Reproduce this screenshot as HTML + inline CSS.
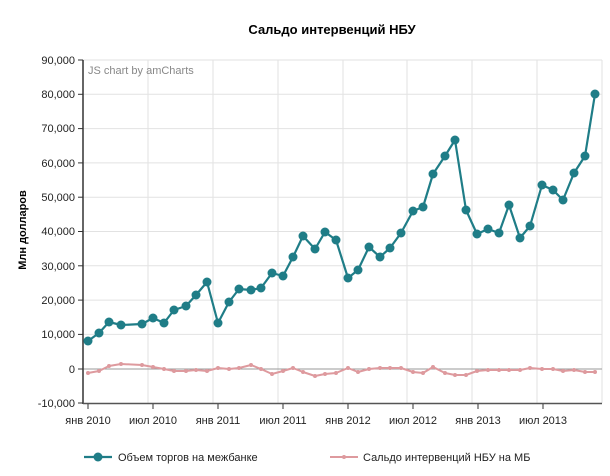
<!DOCTYPE html>
<html><head><meta charset="utf-8"><style>
body{margin:0;background:#fff;}
svg{display:block;font-family:"Liberation Sans",sans-serif;}
</style></head><body>
<svg width="610" height="476" viewBox="0 0 610 476">
<rect width="610" height="476" fill="#fff"/>
<text x="332" y="34" text-anchor="middle" font-size="13" font-weight="bold" fill="#000">Сальдо интервенций НБУ</text>
<g stroke="#e2e2e2" stroke-width="1">
<line x1="83" y1="60" x2="602" y2="60"/><line x1="83" y1="94.3" x2="602" y2="94.3"/><line x1="83" y1="128.6" x2="602" y2="128.6"/><line x1="83" y1="162.9" x2="602" y2="162.9"/><line x1="83" y1="197.2" x2="602" y2="197.2"/><line x1="83" y1="231.5" x2="602" y2="231.5"/><line x1="83" y1="265.8" x2="602" y2="265.8"/><line x1="83" y1="300.1" x2="602" y2="300.1"/><line x1="83" y1="334.4" x2="602" y2="334.4"/>
<line x1="148" y1="60" x2="148" y2="403"/><line x1="213" y1="60" x2="213" y2="403"/><line x1="278" y1="60" x2="278" y2="403"/><line x1="343" y1="60" x2="343" y2="403"/><line x1="407" y1="60" x2="407" y2="403"/><line x1="472" y1="60" x2="472" y2="403"/><line x1="537" y1="60" x2="537" y2="403"/><line x1="602" y1="60" x2="602" y2="403"/>
</g>
<line x1="83" y1="369" x2="602" y2="369" stroke="#999" stroke-width="1"/>
<line x1="83" y1="60" x2="83" y2="404" stroke="#333" stroke-width="1.5"/>
<line x1="83" y1="403.5" x2="602" y2="403.5" stroke="#555" stroke-width="1.5"/>
<g stroke="#333"><line x1="78" y1="60" x2="83" y2="60"/><line x1="78" y1="94.3" x2="83" y2="94.3"/><line x1="78" y1="128.6" x2="83" y2="128.6"/><line x1="78" y1="162.9" x2="83" y2="162.9"/><line x1="78" y1="197.2" x2="83" y2="197.2"/><line x1="78" y1="231.5" x2="83" y2="231.5"/><line x1="78" y1="265.8" x2="83" y2="265.8"/><line x1="78" y1="300.1" x2="83" y2="300.1"/><line x1="78" y1="334.4" x2="83" y2="334.4"/><line x1="78" y1="369" x2="83" y2="369"/><line x1="78" y1="403" x2="83" y2="403"/>
<line x1="88" y1="404" x2="88" y2="409"/><line x1="153" y1="404" x2="153" y2="409"/><line x1="218" y1="404" x2="218" y2="409"/><line x1="283" y1="404" x2="283" y2="409"/><line x1="348" y1="404" x2="348" y2="409"/><line x1="413" y1="404" x2="413" y2="409"/><line x1="478" y1="404" x2="478" y2="409"/><line x1="543" y1="404" x2="543" y2="409"/></g>
<g font-size="11" fill="#222" text-anchor="end">
<text x="75" y="64">90,000</text><text x="75" y="98">80,000</text><text x="75" y="132">70,000</text><text x="75" y="167">60,000</text><text x="75" y="201">50,000</text><text x="75" y="235">40,000</text><text x="75" y="270">30,000</text><text x="75" y="304">20,000</text><text x="75" y="338">10,000</text><text x="75" y="373">0</text><text x="75" y="407">-10,000</text>
</g>
<g font-size="11" fill="#222" text-anchor="middle">
<text x="88" y="424">янв 2010</text><text x="153" y="424">июл 2010</text><text x="218" y="424">янв 2011</text><text x="283" y="424">июл 2011</text><text x="348" y="424">янв 2012</text><text x="413" y="424">июл 2012</text><text x="478" y="424">янв 2013</text><text x="543" y="424">июл 2013</text>
</g>
<text x="88" y="74" font-size="11" fill="#888">JS chart by amCharts</text>
<text transform="translate(26,230) rotate(-90)" text-anchor="middle" font-size="11" font-weight="bold" fill="#000">Млн долларов</text>
<polyline fill="none" stroke="#de9a9e" stroke-width="2" stroke-linejoin="round" points="88,373 99,371 109,366 121,364 142,365 153,367 164,369 174,371 186,371 196,370 207,371 218,368 229,369 239,368 251,365 261,369 272,374 283,371 293,368 303,372 315,376 325,374 336,373 348,368 358,372 369,369 380,368 390,368 401,368 413,372 423,373 433,367 445,373 455,375 466,375 477,371 488,370 499,370 509,370 520,370 530,368 542,369 553,369 563,371 574,370 585,372 595,372"/>
<g fill="#de9a9e">
<circle cx="88" cy="373" r="2"/><circle cx="99" cy="371" r="2"/><circle cx="109" cy="366" r="2"/><circle cx="121" cy="364" r="2"/><circle cx="142" cy="365" r="2"/><circle cx="153" cy="367" r="2"/><circle cx="164" cy="369" r="2"/><circle cx="174" cy="371" r="2"/><circle cx="186" cy="371" r="2"/><circle cx="196" cy="370" r="2"/><circle cx="207" cy="371" r="2"/><circle cx="218" cy="368" r="2"/><circle cx="229" cy="369" r="2"/><circle cx="239" cy="368" r="2"/><circle cx="251" cy="365" r="2"/><circle cx="261" cy="369" r="2"/><circle cx="272" cy="374" r="2"/><circle cx="283" cy="371" r="2"/><circle cx="293" cy="368" r="2"/><circle cx="303" cy="372" r="2"/><circle cx="315" cy="376" r="2"/><circle cx="325" cy="374" r="2"/><circle cx="336" cy="373" r="2"/><circle cx="348" cy="368" r="2"/><circle cx="358" cy="372" r="2"/><circle cx="369" cy="369" r="2"/><circle cx="380" cy="368" r="2"/><circle cx="390" cy="368" r="2"/><circle cx="401" cy="368" r="2"/><circle cx="413" cy="372" r="2"/><circle cx="423" cy="373" r="2"/><circle cx="433" cy="367" r="2"/><circle cx="445" cy="373" r="2"/><circle cx="455" cy="375" r="2"/><circle cx="466" cy="375" r="2"/><circle cx="477" cy="371" r="2"/><circle cx="488" cy="370" r="2"/><circle cx="499" cy="370" r="2"/><circle cx="509" cy="370" r="2"/><circle cx="520" cy="370" r="2"/><circle cx="530" cy="368" r="2"/><circle cx="542" cy="369" r="2"/><circle cx="553" cy="369" r="2"/><circle cx="563" cy="371" r="2"/><circle cx="574" cy="370" r="2"/><circle cx="585" cy="372" r="2"/><circle cx="595" cy="372" r="2"/>
</g>
<polyline fill="none" stroke="#1f7d87" stroke-width="2.2" stroke-linejoin="round" points="88,341 99,333 109,322 121,325 142,324 153,318 164,323 174,310 186,306 196,295 207,282 218,323 229,302 239,289 251,290 261,288 272,273 283,276 293,257 303,236 315,249 325,232 336,240 348,278 358,270 369,247 380,257 390,248 401,233 413,211 423,207 433,174 445,156 455,140 466,210 477,234 488,229 499,233 509,205 520,238 530,226 542,185 553,190 563,200 574,173 585,156 595,94"/>
<g fill="#1f7d87">
<circle cx="88" cy="341" r="4.5"/><circle cx="99" cy="333" r="4.5"/><circle cx="109" cy="322" r="4.5"/><circle cx="121" cy="325" r="4.5"/><circle cx="142" cy="324" r="4.5"/><circle cx="153" cy="318" r="4.5"/><circle cx="164" cy="323" r="4.5"/><circle cx="174" cy="310" r="4.5"/><circle cx="186" cy="306" r="4.5"/><circle cx="196" cy="295" r="4.5"/><circle cx="207" cy="282" r="4.5"/><circle cx="218" cy="323" r="4.5"/><circle cx="229" cy="302" r="4.5"/><circle cx="239" cy="289" r="4.5"/><circle cx="251" cy="290" r="4.5"/><circle cx="261" cy="288" r="4.5"/><circle cx="272" cy="273" r="4.5"/><circle cx="283" cy="276" r="4.5"/><circle cx="293" cy="257" r="4.5"/><circle cx="303" cy="236" r="4.5"/><circle cx="315" cy="249" r="4.5"/><circle cx="325" cy="232" r="4.5"/><circle cx="336" cy="240" r="4.5"/><circle cx="348" cy="278" r="4.5"/><circle cx="358" cy="270" r="4.5"/><circle cx="369" cy="247" r="4.5"/><circle cx="380" cy="257" r="4.5"/><circle cx="390" cy="248" r="4.5"/><circle cx="401" cy="233" r="4.5"/><circle cx="413" cy="211" r="4.5"/><circle cx="423" cy="207" r="4.5"/><circle cx="433" cy="174" r="4.5"/><circle cx="445" cy="156" r="4.5"/><circle cx="455" cy="140" r="4.5"/><circle cx="466" cy="210" r="4.5"/><circle cx="477" cy="234" r="4.5"/><circle cx="488" cy="229" r="4.5"/><circle cx="499" cy="233" r="4.5"/><circle cx="509" cy="205" r="4.5"/><circle cx="520" cy="238" r="4.5"/><circle cx="530" cy="226" r="4.5"/><circle cx="542" cy="185" r="4.5"/><circle cx="553" cy="190" r="4.5"/><circle cx="563" cy="200" r="4.5"/><circle cx="574" cy="173" r="4.5"/><circle cx="585" cy="156" r="4.5"/><circle cx="595" cy="94" r="4.5"/>
</g>
<line x1="84" y1="457" x2="112" y2="457" stroke="#1f7d87" stroke-width="2.2"/>
<circle cx="98" cy="457" r="4.5" fill="#1f7d87"/>
<text x="118" y="461" font-size="11" fill="#222">Объем торгов на межбанке</text>
<line x1="330" y1="457" x2="358" y2="457" stroke="#de9a9e" stroke-width="2"/>
<circle cx="344" cy="457" r="2" fill="#de9a9e"/>
<text x="363" y="461" font-size="11" fill="#222">Сальдо интервенций НБУ на МБ</text>
</svg>
</body></html>
